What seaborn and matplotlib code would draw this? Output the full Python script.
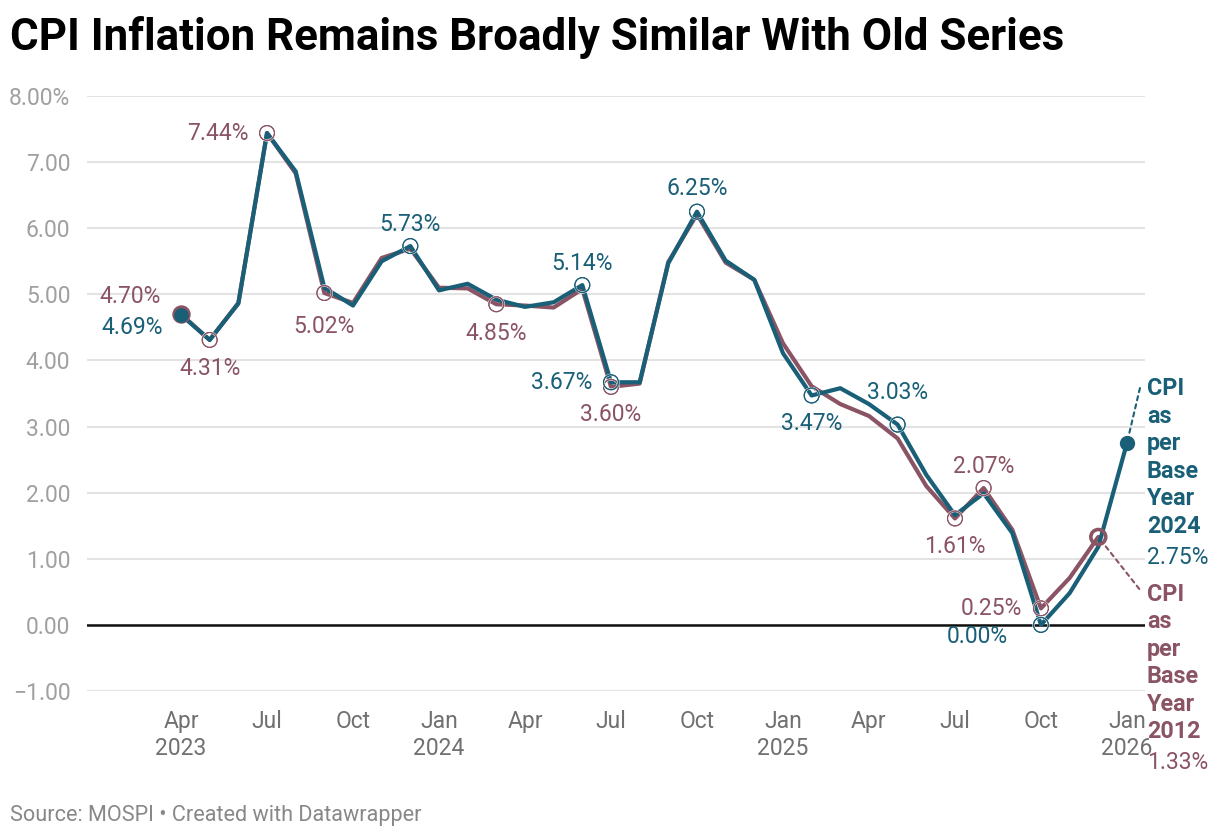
import pandas as pd
import numpy as np
import matplotlib
matplotlib.use("Agg")
import matplotlib.pyplot as plt
import matplotlib.patheffects as pe
import seaborn as sns

#### data
months = pd.date_range("2023-04-01", "2026-01-01", freq="MS")

# CPI inflation (%), new series with base year 2024 (back-cast), Apr 2023 - Jan 2026
cpi_base2024 = [
    4.69, 4.31, 4.86, 7.44, 6.86, 5.10, 4.83, 5.50, 5.73,
    5.06, 5.16, 4.92, 4.81, 4.88, 5.14, 3.67, 3.67, 5.47, 6.25, 5.51, 5.22,
    4.11, 3.47, 3.58, 3.34, 3.03, 2.27, 1.66, 1.99, 1.39, 0.00, 0.48, 1.18,
    2.75,
]
# CPI inflation (%), old series with base year 2012, Apr 2023 - Dec 2025
cpi_base2012 = [
    4.70, 4.31, 4.87, 7.44, 6.83, 5.02, 4.87, 5.55, 5.69,
    5.10, 5.09, 4.85, 4.83, 4.80, 5.08, 3.60, 3.65, 5.49, 6.21, 5.48, 5.22,
    4.26, 3.61, 3.34, 3.16, 2.82, 2.10, 1.61, 2.07, 1.44, 0.25, 0.71, 1.33,
]

tick_months = ["Apr\n2023", "Jul", "Oct", "Jan\n2024", "Apr", "Jul", "Oct",
               "Jan\n2025", "Apr", "Jul", "Oct", "Jan\n2026"]
y_ticks = [-1, 0, 1, 2, 3, 4, 5, 6, 7, 8]

# which points carry a value label (month index, offset in pixels, alignment)
labels_2012 = [
    (0, (-20, 18), "right"), (1, (0, -29), "center"), (3, (-18, 0), "right"),
    (5, (0, -33), "center"), (11, (0, -29), "center"), (15, (0, -28), "center"),
    (27, (0, -28), "center"), (28, (0, 22), "center"), (30, (-19, 0), "right"),
]
labels_2024 = [
    (0, (-18, -13), "right"), (8, (0, 22), "center"), (14, (0, 22), "center"),
    (15, (-19, 0), "right"), (18, (0, 23), "center"), (22, (0, -28), "center"),
    (25, (0, 32), "center"), (30, (-33, -12), "right"),
]

TEAL = "#195f77"
MAUVE = "#8a5464"

df = pd.concat([
    pd.DataFrame({"idx": np.arange(len(cpi_base2012)), "cpi": cpi_base2012,
                  "series": "Base 2012"}),
    pd.DataFrame({"idx": np.arange(len(cpi_base2024)), "cpi": cpi_base2024,
                  "series": "Base 2024"}),
])

sns.set_style("white")
plt.rcParams["font.family"] = ["Roboto", "DejaVu Sans"]

fig = plt.figure(figsize=(12.2, 8.38), dpi=100)
ax = fig.add_axes([87 / 1220, 1 - 691 / 838, (1145 - 87) / 1220, (691 - 96) / 838])

sns.lineplot(data=df, x="idx", y="cpi", hue="series",
             hue_order=["Base 2012", "Base 2024"],
             palette={"Base 2012": MAUVE, "Base 2024": TEAL},
             linewidth=3.0, legend=False, ax=ax, clip_on=False, zorder=3)

ax.set_xlim(-3.28, 33.63)
ax.set_ylim(-1, 8)
ax.set_yticks(y_ticks)
ax.set_yticklabels([(f"{v:.2f}%" if v == 8 else f"{v:.2f}").replace("-", "\u2212")
                    for v in y_ticks])
ax.set_xticks(range(0, len(months), 3))
ax.set_xticklabels(tick_months)
ax.tick_params(axis="y", length=0, pad=12, labelsize=16.5, labelcolor="#a0a0a0")
ax.tick_params(axis="x", length=0, pad=14, labelsize=16.5, labelcolor="#707070")
ax.set_xlabel("")
ax.set_ylabel("")
for s in ax.spines.values():
    s.set_visible(False)
ax.grid(axis="y", color="#e3e3e3", linewidth=1.5)
ax.grid(axis="x", visible=False)
ax.axhline(0, color="#111111", linewidth=1.8, zorder=2)

# hollow circles on labelled points
halo = [pe.withStroke(linewidth=1.6, foreground="white")]
for labels, vals, col in [(labels_2012, cpi_base2012, MAUVE),
                          (labels_2024, cpi_base2024, TEAL)]:
    idx = [i for i, _, _ in labels if i != 0]
    sc = ax.scatter(idx, [vals[i] for i in idx], s=115, facecolors="none",
                    edgecolors=col, linewidths=0.8, zorder=5, clip_on=False)
    sc.set_path_effects(halo + [pe.Normal()])
    for i, off, ha in labels:
        ax.annotate(f"{vals[i]:.2f}%", xy=(i, vals[i]), xytext=off,
                    textcoords="offset pixels", ha=ha, va="center",
                    fontsize=16.5, color=col, zorder=6)

# start and end markers
ax.scatter([0], [cpi_base2012[0]], s=150, color=MAUVE, zorder=6)
ax.scatter([0], [cpi_base2024[0]], s=90, color=TEAL, zorder=7)
end12 = len(cpi_base2012) - 1
end24 = len(cpi_base2024) - 1
ax.scatter([end24], [cpi_base2024[end24]], s=100, color=TEAL, zorder=7,
           clip_on=False)
ax.scatter([end12], [cpi_base2012[end12]], s=115, facecolors="none",
           edgecolors=MAUVE, linewidths=2.6, zorder=6, clip_on=False)

# direct line labels on the right
for end, vals, col, lead, top, name in [
        (end24, cpi_base2024, TEAL, (13, 55), 66, "CPI\nas\nper\nBase\nYear\n2024"),
        (end12, cpi_base2012, MAUVE, (41, -52), -46, "CPI\nas\nper\nBase\nYear\n2012")]:
    x0 = ax.transData.transform((end, vals[end]))[0]
    dx = 1147 - x0
    ax.annotate("", xy=(end, vals[end]), xytext=lead, textcoords="offset pixels",
                arrowprops=dict(arrowstyle="-", color=col, lw=1.5,
                                linestyle=(0, (2, 2)), shrinkA=0, shrinkB=7),
                annotation_clip=False)
    ax.annotate(name, xy=(end, vals[end]), xytext=(dx, top),
                textcoords="offset pixels", ha="left", va="top",
                fontsize=16.8, fontweight="bold", color=col, linespacing=1.25,
                annotation_clip=False)
    ax.annotate(f"{vals[end]:.2f}%", xy=(end, vals[end]), xytext=(dx, top - 180),
                textcoords="offset pixels", ha="left", va="center",
                fontsize=16.5, color=col, annotation_clip=False)

fig.text(10 / 1220, 1 - 50 / 838, "CPI Inflation Remains Broadly Similar With Old Series",
         fontsize=31.6, fontweight="bold", color="#000000", va="baseline", ha="left")
fig.text(10 / 1220, 1 - 815 / 838, "Source: MOSPI \u2022 Created with Datawrapper",
         fontsize=15.6, color="#888888", va="center", ha="left")

fig.savefig("out.png", dpi=100)
plt.close(fig)
